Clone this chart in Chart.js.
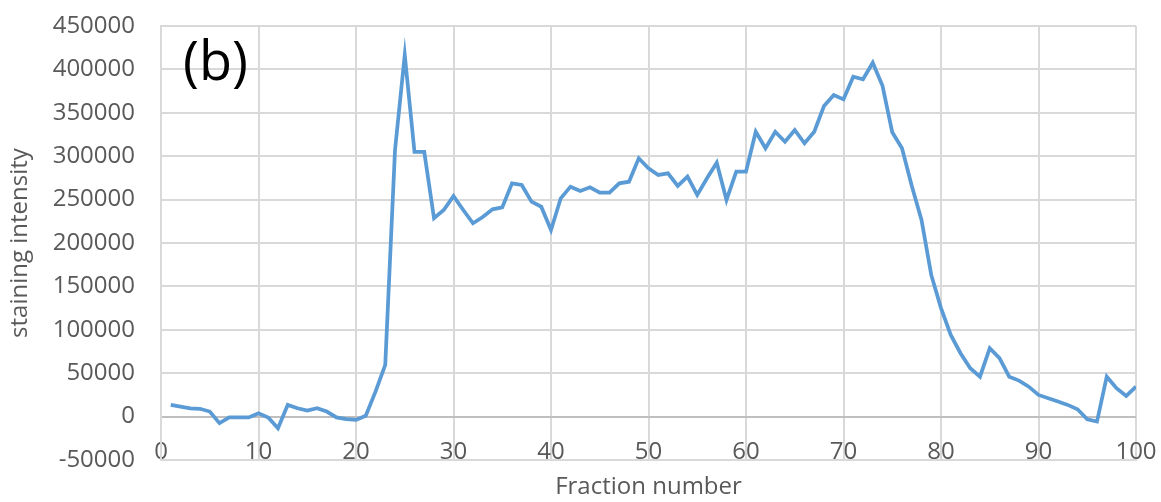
<!DOCTYPE html>
<html>
<head>
<meta charset="utf-8">
<script src="https://cdn.jsdelivr.net/npm/chart.js@4.4.1/dist/chart.umd.min.js"></script>
<style>
  html, body { margin: 0; padding: 0; background: #fff; }
  #wrap { width: 1161px; height: 502px; position: relative; }
</style>
</head>
<body>
<div id="wrap"><canvas id="fractionChart"></canvas></div>
<script>
// fraction numbers 1..100
const fractions = [
  1, 2, 3, 4, 5, 6, 7, 8, 9, 10,
  11, 12, 13, 14, 15, 16, 17, 18, 19, 20,
  21, 22, 23, 24, 25, 26, 27, 28, 29, 30,
  31, 32, 33, 34, 35, 36, 37, 38, 39, 40,
  41, 42, 43, 44, 45, 46, 47, 48, 49, 50,
  51, 52, 53, 54, 55, 56, 57, 58, 59, 60,
  61, 62, 63, 64, 65, 66, 67, 68, 69, 70,
  71, 72, 73, 74, 75, 76, 77, 78, 79, 80,
  81, 82, 83, 84, 85, 86, 87, 88, 89, 90,
  91, 92, 93, 94, 95, 96, 97, 98, 99, 100
];

// staining intensity
const intensity = [
  13500, 11500, 9600, 9000, 5800, -7600, -1000, -1000, -1000, 3900,
  -1000, -13400, 13500, 9600, 7000, 9600, 5800, -1000, -3000, -3800,
  1000, 28800, 59500, 307000, 416600, 305000, 305000, 228500, 238000, 254000,
  238000, 222700, 230000, 238800, 241000, 268800, 266800, 247600, 241800, 215000,
  251500, 264900, 260000, 264200, 258000, 258000, 268800, 270600, 297600, 286000,
  278400, 280300, 265700, 276400, 255300, 274500, 292500, 249600, 282200, 282200,
  328200, 309100, 328200, 316700, 330200, 314900, 328200, 357800, 370500, 365500,
  391600, 388600, 407700, 381000, 327500, 309100, 266000, 226500, 163200, 125000,
  94000, 73000, 55700, 46000, 78800, 67300, 46000, 41500, 34500, 25000,
  21100, 17300, 13500, 8500, -3000, -5700, 46000, 32700, 23800, 34500
];

const xTicks = [0, 10, 20, 30, 40, 50, 60, 70, 80, 90, 100];
const yTicks = [-50000, 0, 50000, 100000, 150000, 200000, 250000, 300000, 350000, 400000, 450000];

const labelColor = '#595959';
const gridColor = '#d9d9d9';
const fontFamily = "'Open Sans', sans-serif";

// panel letter in the top left corner
const panelLabel = {
  id: 'panelLabel',
  afterDraw: function (chart) {
    const ctx = chart.ctx;
    ctx.save();
    ctx.fillStyle = '#000';
    ctx.font = "54px 'Open Sans', sans-serif";
    ctx.textAlign = 'left';
    ctx.textBaseline = 'middle';
    ctx.fillText('(b)', 183, 65);
    ctx.restore();
  }
};

const chartData = {
  datasets: [{
    label: 'staining intensity',
    data: fractions.map((f, i) => ({ x: f, y: intensity[i] })),
    borderColor: '#5B9BD5',
    borderWidth: 3.75,
    pointRadius: 0,
    tension: 0,
    fill: false
  }]
};

const chartOptions = {
  responsive: true,
  maintainAspectRatio: false,
  animation: false,
  layout: { padding: { top: 26, right: 25, bottom: 0, left: 0 } },
  plugins: {
    legend: { display: false },
    tooltip: { enabled: false }
  },
  scales: {
    x: {
      type: 'linear',
      min: 0,
      max: 100,
      afterBuildTicks: function (scale) {
        scale.ticks = xTicks.map(v => ({ value: v }));
      },
      afterFit: function (scale) {
        scale.height = 42;
        scale.paddingLeft = 0;
        scale.paddingRight = 0;
      },
      grid: {
        color: gridColor,
        lineWidth: 2,
        drawTicks: false
      },
      border: { color: gridColor, width: 2 },
      ticks: {
        color: labelColor,
        mirror: true,
        padding: -7,
        maxRotation: 0,
        font: { family: fontFamily, size: 24 },
        callback: v => String(v)
      },
      title: {
        display: true,
        text: 'Fraction number',
        color: labelColor,
        padding: { top: 0, bottom: 0 },
        font: { family: fontFamily, size: 24 }
      }
    },
    y: {
      min: -50000,
      max: 450000,
      afterBuildTicks: function (scale) {
        scale.ticks = yTicks.map(v => ({ value: v }));
      },
      afterFit: function (scale) {
        scale.width = 161;
        scale.paddingTop = 0;
        scale.paddingBottom = 0;
      },
      grid: {
        color: ctx => ctx.tick && ctx.tick.value === 0 ? '#bfbfbf' : gridColor,
        lineWidth: 2,
        drawTicks: false
      },
      border: { color: gridColor, width: 2 },
      ticks: {
        color: labelColor,
        padding: 26,
        font: { family: fontFamily, size: 24 },
        callback: v => String(v)
      },
      title: {
        display: true,
        text: 'staining intensity',
        color: labelColor,
        padding: { top: 6, bottom: 0 },
        font: { family: fontFamily, size: 24 }
      }
    }
  }
};

new Chart(document.getElementById('fractionChart'), {
  type: 'line',
  data: chartData,
  options: chartOptions,
  plugins: [panelLabel]
});
</script>
</body>
</html>
